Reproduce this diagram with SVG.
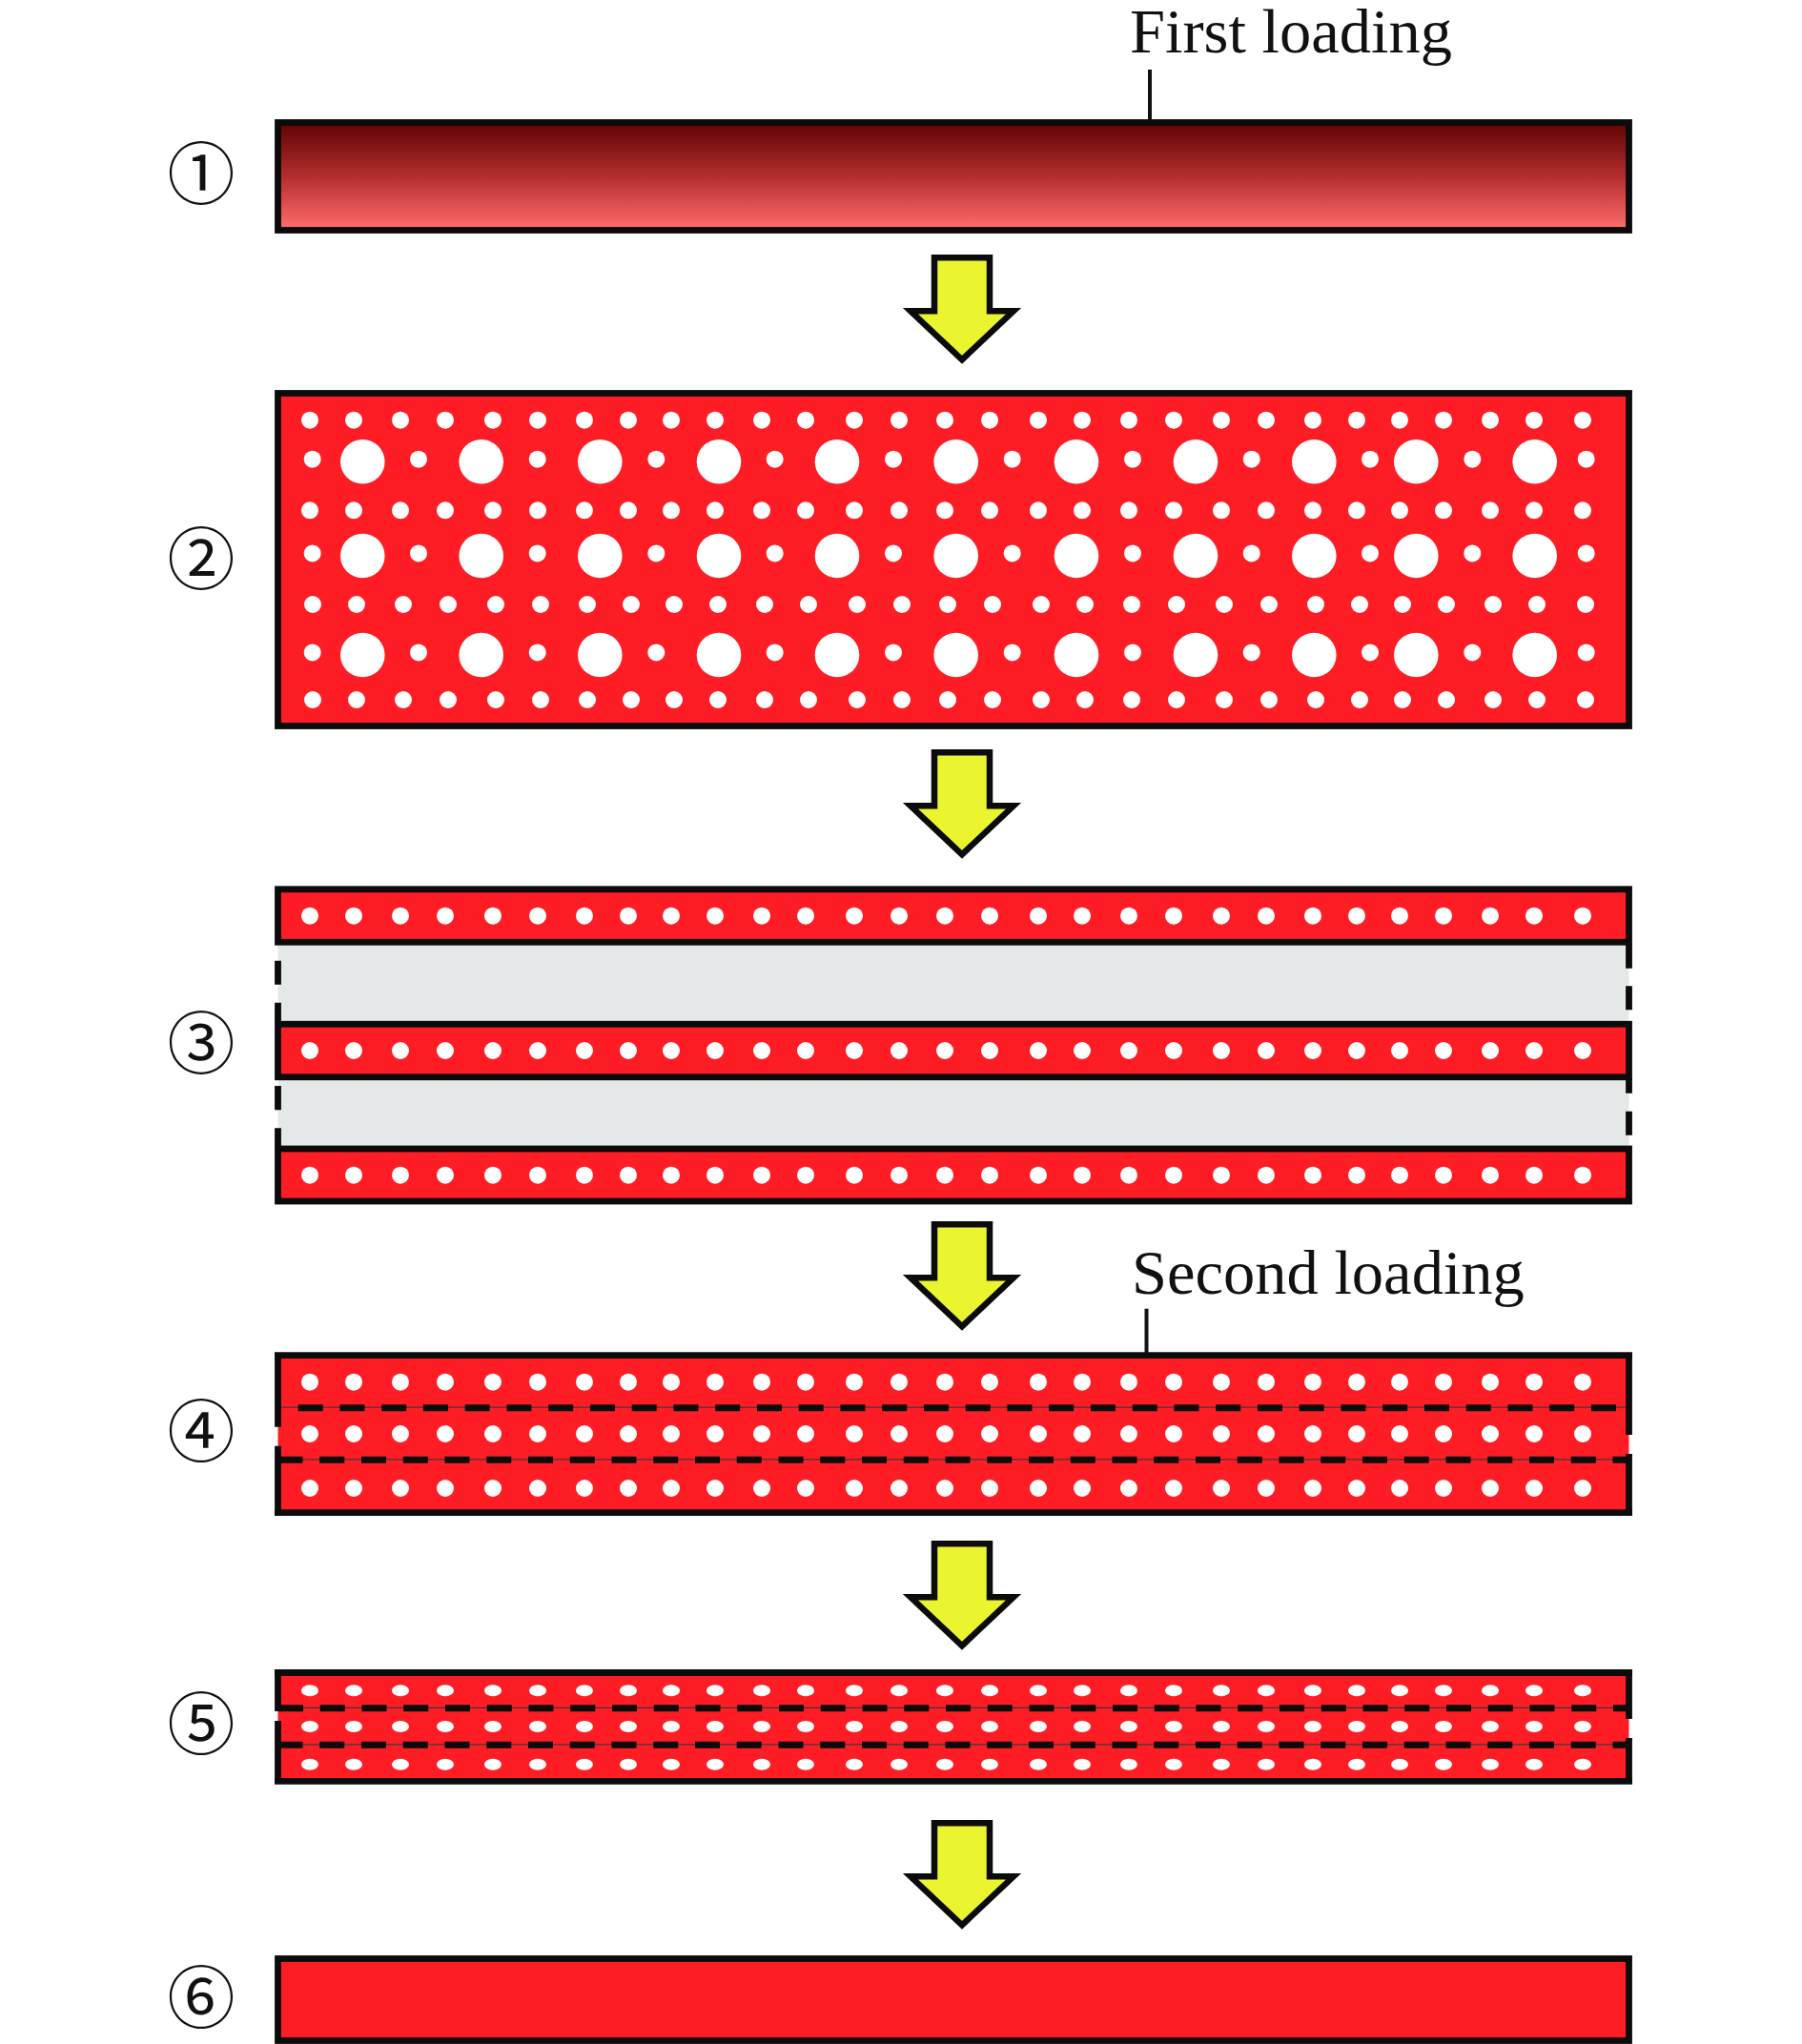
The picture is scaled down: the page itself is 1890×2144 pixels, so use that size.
<svg xmlns="http://www.w3.org/2000/svg" xmlns:xlink="http://www.w3.org/1999/xlink" width="1890" height="2144" viewBox="0 0 1890 2144">
  <style>
    .bar { fill: #ff1d25; stroke: #0b0b0b; stroke-width: 6.8; }
    .edge { fill: none; stroke: #0b0b0b; stroke-width: 6.8; stroke-linecap: butt; }
    .dash { fill: none; stroke: #0b0b0b; stroke-width: 7; stroke-dasharray: 26 17.75; }
    .thin { fill: none; stroke: #3a3a3a; stroke-width: 1.2; }
    .red { fill: #ff1d25; }
    .gray { fill: #e5e8e8; }
    .hole { fill: #ffffff; }
    .num { font-family: 'Noto Sans CJK JP', 'DejaVu Sans', sans-serif; font-size: 71px; fill: #111111; text-anchor: middle; }
    .lab { font-family: 'Liberation Serif', 'Times New Roman', serif; font-size: 66.5px; fill: #111111; }
    .lead { stroke: #111111; stroke-width: 4; }
    .arrow { fill: #eaf530; stroke: #0b0b0b; stroke-width: 6.5; stroke-linejoin: miter; stroke-miterlimit: 10; }
  </style>
  <defs>
    <linearGradient id="g1" x1="0" y1="0" x2="0" y2="1">
      <stop offset="0" stop-color="#5e0404"/>
      <stop offset="0.5" stop-color="#b42d2d"/>
      <stop offset="1" stop-color="#ff6f6d"/>
    </linearGradient>
    <g id="rowA" class="hole">
      <circle cx="325" cy="0" r="9"/><circle cx="371" cy="0" r="9"/><circle cx="420" cy="0" r="9"/><circle cx="467" cy="0" r="9"/><circle cx="517" cy="0" r="9"/><circle cx="564" cy="0" r="9"/><circle cx="613" cy="0" r="9"/><circle cx="659" cy="0" r="9"/><circle cx="704" cy="0" r="9"/><circle cx="750" cy="0" r="9"/><circle cx="799" cy="0" r="9"/><circle cx="845" cy="0" r="9"/><circle cx="896" cy="0" r="9"/><circle cx="943" cy="0" r="9"/><circle cx="991" cy="0" r="9"/><circle cx="1038" cy="0" r="9"/><circle cx="1089" cy="0" r="9"/><circle cx="1135" cy="0" r="9"/><circle cx="1184" cy="0" r="9"/><circle cx="1231" cy="0" r="9"/><circle cx="1281" cy="0" r="9"/><circle cx="1328" cy="0" r="9"/><circle cx="1377" cy="0" r="9"/><circle cx="1423" cy="0" r="9"/><circle cx="1468" cy="0" r="9"/><circle cx="1514" cy="0" r="9"/><circle cx="1563" cy="0" r="9"/><circle cx="1609" cy="0" r="9"/><circle cx="1660" cy="0" r="9"/>
    </g>
    <g id="rowE" class="hole">
      <ellipse cx="325" cy="0" rx="9" ry="6"/><ellipse cx="371" cy="0" rx="9" ry="6"/><ellipse cx="420" cy="0" rx="9" ry="6"/><ellipse cx="467" cy="0" rx="9" ry="6"/><ellipse cx="517" cy="0" rx="9" ry="6"/><ellipse cx="564" cy="0" rx="9" ry="6"/><ellipse cx="613" cy="0" rx="9" ry="6"/><ellipse cx="659" cy="0" rx="9" ry="6"/><ellipse cx="704" cy="0" rx="9" ry="6"/><ellipse cx="750" cy="0" rx="9" ry="6"/><ellipse cx="799" cy="0" rx="9" ry="6"/><ellipse cx="845" cy="0" rx="9" ry="6"/><ellipse cx="896" cy="0" rx="9" ry="6"/><ellipse cx="943" cy="0" rx="9" ry="6"/><ellipse cx="991" cy="0" rx="9" ry="6"/><ellipse cx="1038" cy="0" rx="9" ry="6"/><ellipse cx="1089" cy="0" rx="9" ry="6"/><ellipse cx="1135" cy="0" rx="9" ry="6"/><ellipse cx="1184" cy="0" rx="9" ry="6"/><ellipse cx="1231" cy="0" rx="9" ry="6"/><ellipse cx="1281" cy="0" rx="9" ry="6"/><ellipse cx="1328" cy="0" rx="9" ry="6"/><ellipse cx="1377" cy="0" rx="9" ry="6"/><ellipse cx="1423" cy="0" rx="9" ry="6"/><ellipse cx="1468" cy="0" rx="9" ry="6"/><ellipse cx="1514" cy="0" rx="9" ry="6"/><ellipse cx="1563" cy="0" rx="9" ry="6"/><ellipse cx="1609" cy="0" rx="9" ry="6"/><ellipse cx="1660" cy="0" rx="9" ry="6"/>
    </g>
    <g id="rowL" class="hole">
      <circle cx="380.3" cy="0" r="23.3"/><circle cx="504.7" cy="0" r="23.3"/><circle cx="629.3" cy="0" r="23.3"/><circle cx="754" cy="0" r="23.3"/><circle cx="878" cy="0" r="23.3"/><circle cx="1002.7" cy="0" r="23.3"/><circle cx="1129" cy="0" r="23.3"/><circle cx="1254" cy="0" r="23.3"/><circle cx="1378.3" cy="0" r="23.3"/><circle cx="1485.3" cy="0" r="23.3"/><circle cx="1609.7" cy="0" r="23.3"/>
      <circle cx="327.7" cy="-2.6" r="9"/><circle cx="439" cy="-2.6" r="9"/><circle cx="563.7" cy="-2.6" r="9"/><circle cx="688.3" cy="-2.6" r="9"/><circle cx="812.7" cy="-2.6" r="9"/><circle cx="937" cy="-2.6" r="9"/><circle cx="1061.7" cy="-2.6" r="9"/><circle cx="1188" cy="-2.6" r="9"/><circle cx="1312.7" cy="-2.6" r="9"/><circle cx="1437" cy="-2.6" r="9"/><circle cx="1544.3" cy="-2.6" r="9"/><circle cx="1663.7" cy="-2.6" r="9"/>
    </g>
    <polygon id="arr" class="arrow" points="-29,0 29,0 29,56 54,56 0,107 -54,56 -29,56"/>
  </defs>

  <rect width="1890" height="2144" fill="#ffffff"/>

  <!-- Stage 1 -->
  <g id="stage1">
    <rect x="291.5" y="128.5" width="1417" height="113" fill="url(#g1)" stroke="#0b0b0b" stroke-width="6.8"/>
    <line class="lead" x1="1206" y1="73" x2="1206" y2="126"/>
    <text class="lab" x="1185" y="55">First loading</text>
  </g>

  <!-- Stage 2 -->
  <g id="stage2">
    <rect class="bar" x="291.5" y="412.5" width="1417" height="349"/>
    <use xlink:href="#rowA" y="440.7"/>
    <use xlink:href="#rowL" y="484.3"/>
    <use xlink:href="#rowA" y="535.3"/>
    <use xlink:href="#rowL" y="583"/>
    <use xlink:href="#rowA" x="3" y="634"/>
    <use xlink:href="#rowL" y="687"/>
    <use xlink:href="#rowA" x="3" y="734"/>
  </g>

  <!-- Stage 3 -->
  <g id="stage3">
    <rect class="gray" x="291.5" y="988" width="1417" height="217"/>
    <rect class="bar" x="291.5" y="932.75" width="1417" height="55.5"/>
    <rect class="bar" x="291.5" y="1074.25" width="1417" height="55.5"/>
    <rect class="bar" x="291.5" y="1205" width="1417" height="55"/>
    <use xlink:href="#rowA" y="960.7"/>
    <use xlink:href="#rowA" y="1102"/>
    <use xlink:href="#rowA" y="1232.7"/>
    <path class="edge" d="M291.5,1007.7 V1032.7 M291.5,1051.7 V1072 M291.5,1139 V1164.3 M291.5,1183.3 V1202.5 M1708.5,990 V1015.7 M1708.5,1034.3 V1059.3 M1708.5,1131 V1146.7 M1708.5,1165.7 V1190.7"/>
  </g>

  <!-- Stage 4 -->
  <g id="stage4">
    <rect class="red" x="291.5" y="1421.7" width="1417" height="165"/>
    <use xlink:href="#rowA" y="1449.7"/>
    <use xlink:href="#rowA" y="1504"/>
    <use xlink:href="#rowA" y="1561"/>
    <line class="thin" x1="291.5" y1="1476.2" x2="1708.5" y2="1476.2"/>
    <line class="thin" x1="291.5" y1="1530.8" x2="1708.5" y2="1530.8"/>
    <line class="dash" x1="291.5" y1="1476.7" x2="1708.5" y2="1476.7" stroke-dashoffset="22.55"/>
    <line class="dash" x1="291.5" y1="1531.3" x2="1708.5" y2="1531.3" stroke-dashoffset="0"/>
    <path class="edge" d="M288,1421.7 H1712 M288,1586.7 H1712 M291.5,1418.3 V1496.7 M291.5,1516.7 V1590.1 M1708.5,1418.3 V1505 M1708.5,1525 V1590.1"/>
    <line class="lead" x1="1202.5" y1="1372.7" x2="1202.5" y2="1419"/>
    <text class="lab" x="1187" y="1357.3">Second loading</text>
  </g>

  <!-- Stage 5 -->
  <g id="stage5">
    <rect class="red" x="291.5" y="1754.5" width="1417" height="113.8"/>
    <use xlink:href="#rowE" y="1773.3"/>
    <use xlink:href="#rowE" y="1811"/>
    <use xlink:href="#rowE" y="1850.7"/>
    <line class="thin" x1="291.5" y1="1791.3" x2="1708.5" y2="1791.3"/>
    <line class="thin" x1="291.5" y1="1829.8" x2="1708.5" y2="1829.8"/>
    <line class="dash" x1="291.5" y1="1791.8" x2="1708.5" y2="1791.8" stroke-dashoffset="43.25"/>
    <line class="dash" x1="291.5" y1="1830.3" x2="1708.5" y2="1830.3" stroke-dashoffset="0"/>
    <path class="edge" d="M288,1754.5 H1712 M288,1868.3 H1712 M291.5,1751.1 V1795 M291.5,1805 V1871.7 M1708.5,1751.1 V1803 M1708.5,1823 V1871.7"/>
  </g>

  <!-- Stage 6 -->
  <g id="stage6">
    <rect class="bar" x="291.5" y="2054.5" width="1417" height="86"/>
  </g>

  <!-- Step labels -->
  <g id="labels">
    <text class="num" x="211" y="208">①</text>
    <text class="num" x="211" y="612">②</text>
    <text class="num" x="211" y="1120">③</text>
    <text class="num" x="211" y="1527">④</text>
    <text class="num" x="211" y="1834">⑤</text>
    <text class="num" x="211" y="2121">⑥</text>
  </g>

  <!-- Connectors (process arrows) -->
  <g id="connectors">
    <use xlink:href="#arr" x="1009" y="270.25"/>
    <use xlink:href="#arr" x="1009" y="789.25"/>
    <use xlink:href="#arr" x="1009" y="1284.25"/>
    <use xlink:href="#arr" x="1009" y="1619.25"/>
    <use xlink:href="#arr" x="1009" y="1912.25"/>
  </g>
</svg>
